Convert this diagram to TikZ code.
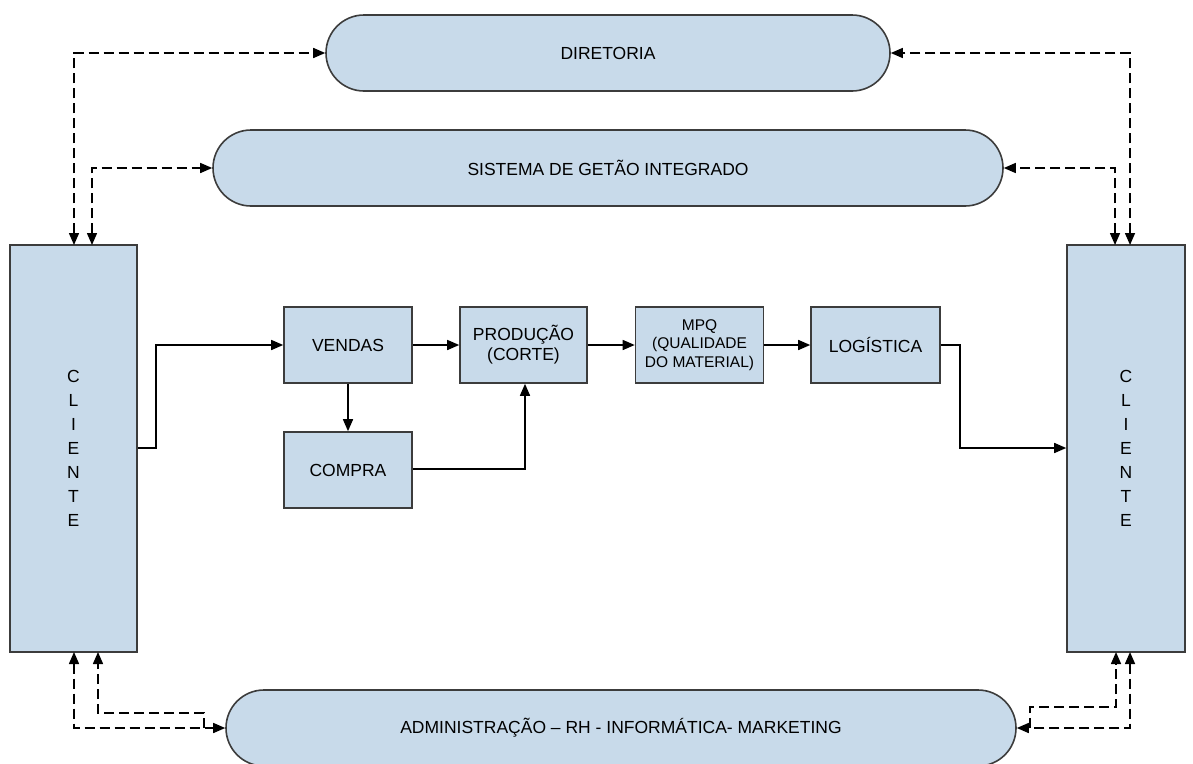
\documentclass[tikz,border=0pt]{standalone}
\usepackage{fontspec}
\setmainfont{Liberation Sans}
\usetikzlibrary{arrows.meta}
\definecolor{boxfill}{RGB}{200,218,234}
\definecolor{boxline}{RGB}{60,60,60}
\tikzset{
  procbox/.style={draw=boxline, line width=1.6pt, fill=boxfill, inner sep=0pt, align=center, font=\fontsize{17.5}{20}\selectfont},
  stadium/.style={procbox, rounded corners=38pt, minimum height=76pt},
  conn/.style={line width=1.5pt, -{Triangle[length=12pt,width=10pt]}},
  dconn/.style={line width=1.5pt, dash pattern=on 10pt off 5pt, {Triangle[length=12pt,width=10pt]}-{Triangle[length=12pt,width=10pt]}},
  darr/.style={line width=1.5pt, dash pattern=on 10pt off 5pt, -{Triangle[length=12pt,width=10pt]}},
}
\begin{document}
\begin{tikzpicture}[x=1pt,y=-1pt]
\useasboundingbox (0,0) rectangle (1193,763);
% big boxes
\node[stadium, minimum width=564pt] (dir) at (608,53) {DIRETORIA};
\node[stadium, minimum width=790pt] (sgi) at (608,168) {SISTEMA DE GETÃO INTEGRADO};
\node[stadium, minimum width=790pt] (adm) at (621,728) {ADMINISTRAÇÃO -- RH - INFORMÁTICA- MARKETING};
\node[procbox, minimum width=127pt, minimum height=407pt] (cl) at (73.5,448.5) {C\\[4pt]L\\[4pt]I\\[4pt]E\\[4pt]N\\[4pt]T\\[4pt]E};
\node[procbox, minimum width=118pt, minimum height=407pt] (cr) at (1126,448.5) {C\\[4pt]L\\[4pt]I\\[4pt]E\\[4pt]N\\[4pt]T\\[4pt]E};
% process boxes
\node[procbox, minimum width=128pt, minimum height=76pt] (ven) at (348,345) {VENDAS};
\node[procbox, minimum width=127pt, minimum height=76pt] (pro) at (523.5,345) {PRODUÇÃO\\(CORTE)};
\node[procbox, minimum width=128pt, minimum height=76pt, font=\fontsize{15.5}{18.5}\selectfont] (mpq) at (699.5,345) {MPQ\\(QUALIDADE\\DO MATERIAL)};
\node[procbox, minimum width=129pt, minimum height=76pt] (log) at (875.5,345) {LOGÍSTICA};
\node[procbox, minimum width=128pt, minimum height=76pt] (com) at (348,470) {COMPRA};
% coordinates
\coordinate (a1) at (156,448);
\coordinate (a2) at (960,448);
\coordinate (a3) at (525,469);
% solid connectors
\draw[conn] (cl.east |- a1) -- (a1) |- (ven.west);
\draw[conn] (ven) -- (pro);
\draw[conn] (pro) -- (mpq);
\draw[conn] (mpq) -- (log);
\draw[conn] (log.east) -| (a2) -- (cr.west |- a2);
\draw[conn] (ven) -- (com);
\draw[conn] (com.east |- a3) -| (pro.south -| a3);
% dashed top connectors
\coordinate (t1) at (74,245);
\coordinate (t2) at (92,245);
\coordinate (t3) at (1115,245);
\coordinate (t4) at (1130,245);
\draw[dconn] (t1) |- (dir.west);
\draw[dconn] (t2) |- (sgi.west);
\draw[dconn] (t3) |- (sgi.east);
\draw[dconn] (t4) |- (dir.east);
% dashed bottom left
\coordinate (b1) at (74,652);
\coordinate (b2) at (98,652);
\coordinate (b3) at (204,713);
\draw[dconn] (b1) |- (adm.west);
\draw[darr] (b3 |- adm.west) |- (b2 |- b3) -- (b2);
% dashed bottom right
\coordinate (b4) at (1130,652);
\coordinate (b5) at (1116,652);
\coordinate (b6) at (1030,707);
\draw[dconn] (b4) |- (adm.east);
\draw[darr] (b6 |- adm.east) |- (b5 |- b6) -- (b5);
\end{tikzpicture}
\end{document}
